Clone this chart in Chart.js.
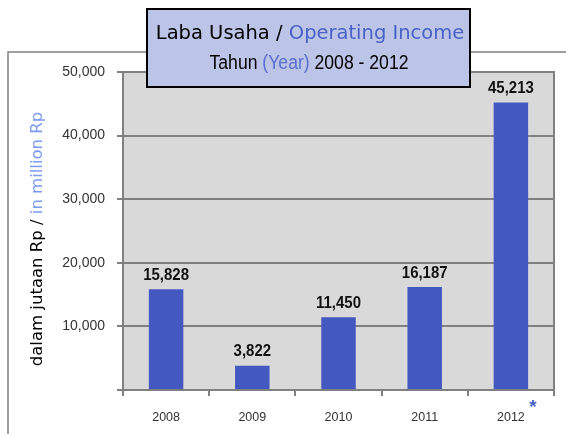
<!DOCTYPE html>
<html>
<head>
<meta charset="utf-8">
<script src="https://cdn.jsdelivr.net/npm/chart.js@4.4.1/dist/chart.umd.min.js"></script>
<style>
  html, body { margin: 0; padding: 0; background: #fff; }
  #wrap { width: 566px; height: 434px; position: relative; }
</style>
</head>
<body>
<div id="wrap"><canvas id="chartIncome"></canvas></div>
<script>
// data
const years = ['2008', '2009', '2010', '2011', '2012'];
const incomeValues = [15828, 3822, 11450, 16187, 45213];
const yTickValues = [0, 10000, 20000, 30000, 40000, 50000];

const BAR_BLUE = '#4358c0';
const GRID_GRAY = '#808080';
const fmt = v => v.toLocaleString('en-US');

// text squeezed horizontally (no narrow font installed)
function narrowText(ctx, text, x, y, squeeze) {
    ctx.save();
    ctx.translate(x, y);
    ctx.scale(squeeze, 1);
    ctx.fillText(text, 0, 0);
    ctx.restore();
}

// draws background, frame, title box, axis title and value labels
const decor = {
    id: 'decor',
    beforeDraw(chart) {
        const { ctx, chartArea: a } = chart;
        ctx.save();
        ctx.fillStyle = '#d9d9d9';
        ctx.fillRect(a.left, a.top, a.right - a.left, a.bottom - a.top);
        // outer frame
        ctx.strokeStyle = GRID_GRAY;
        ctx.lineWidth = 1.5;
        ctx.beginPath();
        ctx.moveTo(8, 434);
        ctx.lineTo(8, 52);
        ctx.lineTo(566, 52);
        ctx.stroke();
        ctx.restore();
    },
    afterDraw(chart) {
        const { ctx, chartArea: a } = chart;
        ctx.save();
        // plot border
        ctx.strokeStyle = GRID_GRAY;
        ctx.lineWidth = 2;
        ctx.strokeRect(a.left, a.top, a.right - a.left, a.bottom - a.top);

        // value labels above bars
        const meta = chart.getDatasetMeta(0);
        ctx.fillStyle = '#111';
        ctx.font = 'bold 17px "Liberation Sans", sans-serif';
        ctx.textAlign = 'center';
        ctx.textBaseline = 'middle';
        meta.data.forEach((bar, i) => {
            narrowText(ctx, fmt(incomeValues[i]), bar.x, bar.y - 14, 0.88);
        });

        // asterisk after 2012
        ctx.fillStyle = '#4a62c8';
        ctx.font = 'bold 19px "Liberation Sans", sans-serif';
        ctx.fillText('*', 533, 408);

        // y axis title, two colours
        ctx.translate(38, 239);
        ctx.rotate(-Math.PI / 2);
        ctx.font = '16.5px "DejaVu Sans", sans-serif';
        ctx.textAlign = 'left';
        const p1 = 'dalam jutaan Rp / ', p2 = 'in million Rp';
        const w1 = ctx.measureText(p1).width, w2 = ctx.measureText(p2).width;
        let x = -(w1 + w2) / 2;
        ctx.fillStyle = '#000';
        ctx.fillText(p1, x, 0);
        ctx.fillStyle = '#7b9cf5';
        ctx.fillText(p2, x + w1, 0);
        ctx.setTransform(1, 0, 0, 1, 0, 0);

        // title box
        ctx.fillStyle = '#bcc4e8';
        ctx.fillRect(147, 9, 323, 78);
        ctx.strokeStyle = '#000';
        ctx.lineWidth = 2;
        ctx.strokeRect(147, 9, 323, 78);

        const mixed = (parts, cx, cy, font, squeeze) => {
            ctx.font = font;
            ctx.textAlign = 'left';
            const total = parts.reduce((s, p) => s + ctx.measureText(p[0]).width, 0) * squeeze;
            let px = cx - total / 2;
            parts.forEach(p => {
                ctx.fillStyle = p[1];
                narrowText(ctx, p[0], px, cy, squeeze);
                px += ctx.measureText(p[0]).width * squeeze;
            });
        };
        mixed([['Laba Usaha / ', '#000'], ['Operating Income', '#4a62c8']],
            310, 34, '19.5px "DejaVu Sans", sans-serif', 1);
        mixed([['Tahun ', '#000'], ['(Year)', '#5a6fd0'], [' 2008 - 2012', '#000']],
            309, 63, '20px "Liberation Sans", sans-serif', 0.88);
        ctx.restore();
    }
};

new Chart(document.getElementById('chartIncome'), {
    type: 'bar',
    data: {
        labels: years,
        datasets: [{
            label: 'Laba Usaha',
            data: incomeValues,
            backgroundColor: BAR_BLUE,
            borderWidth: 0,
            categoryPercentage: 1,
            barPercentage: 0.4
        }]
    },
    options: {
        responsive: true,
        maintainAspectRatio: false,
        animation: false,
        layout: { padding: { top: 72, right: 12, left: 0, bottom: 0 } },
        plugins: {
            legend: { display: false },
            tooltip: { enabled: false }
        },
        scales: {
            y: {
                min: 0,
                max: 50000,
                afterFit: s => { s.width = 123; },
                afterBuildTicks: s => { s.ticks = yTickValues.map(v => ({ value: v })); },
                grid: {
                    color: GRID_GRAY,
                    lineWidth: 2,
                    tickLength: 6,
                    tickColor: GRID_GRAY
                },
                border: { color: GRID_GRAY, width: 2 },
                ticks: {
                    padding: 12,
                    color: '#333',
                    font: { family: '"Liberation Sans", sans-serif', size: 14 },
                    callback: v => (v === 0 ? '' : fmt(v))
                }
            },
            x: {
                afterFit: s => { s.height = 44; },
                grid: {
                    drawOnChartArea: false,
                    color: GRID_GRAY,
                    lineWidth: 2,
                    tickLength: 6
                },
                border: { color: GRID_GRAY, width: 2 },
                ticks: {
                    padding: 14,
                    color: '#333',
                    font: { family: '"Liberation Sans", sans-serif', size: 12.5 }
                }
            }
        }
    },
    plugins: [decor]
});
</script>
</body>
</html>
